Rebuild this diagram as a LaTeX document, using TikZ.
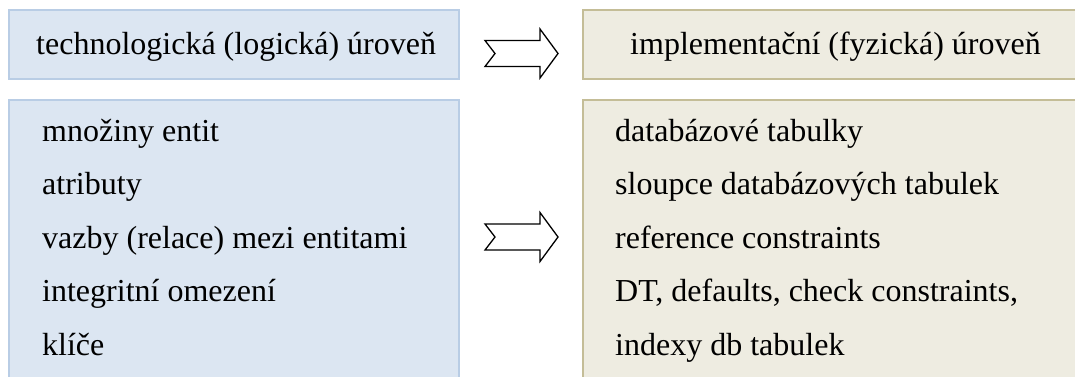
\documentclass[tikz,border=0pt]{standalone}
\usepackage{fontspec}
\setmainfont{Liberation Serif}
\definecolor{bluefill}{HTML}{DCE6F2}
\definecolor{blueline}{HTML}{B9CDE5}
\definecolor{beigefill}{HTML}{EEECE1}
\definecolor{beigeline}{HTML}{C4BD97}
\tikzset{
  bluebox/.style={fill=bluefill, draw=blueline, line width=2pt},
  beigebox/.style={fill=beigefill, draw=beigeline, line width=2pt},
  txt/.style={anchor=base west, inner sep=0pt, font=\fontsize{32}{38}\selectfont},
  fatarrow/.style={draw=black, fill=white, line width=1.3pt, line join=miter},
}
\begin{document}
\begin{tikzpicture}[x=1pt,y=-1pt]
\useasboundingbox (0,0) rectangle (1075,376);
\clip (0,0) rectangle (1075,376);
% boxes
\draw[bluebox] (8.5,10) rectangle (459,79);
\draw[bluebox] (8.5,100) rectangle (459,400);
\draw[beigebox] (583,10) rectangle (1090,79);
\draw[beigebox] (583,100) rectangle (1090,400);
% titles
\node[txt] (t1) at (36,54) {technologická (logická) úroveň};
\node[txt] (t2) at (630,54) {implementační (fyzická) úroveň};
% left list
\node[txt] (l1) at (42,141) {množiny entit};
\node[txt] (l2) at (42,194.5) {atributy};
\node[txt] (l3) at (42,248) {vazby (relace) mezi entitami};
\node[txt] (l4) at (42,301.5) {integritní omezení};
\node[txt] (l5) at (42,355) {klíče};
% right list
\node[txt] (r1) at (615,141) {databázové tabulky};
\node[txt] (r2) at (615,194.5) {sloupce databázových tabulek};
\node[txt] (r3) at (615,248) {reference constraints};
\node[txt] (r4) at (615,301.5) {DT, defaults, check constraints,};
\node[txt] (r5) at (615,355) {indexy db tabulek};
% arrows
\foreach \cy/\nm in {53.5/a1, 237/a2} {
  \draw[fatarrow] (485,\cy-13) -- (540,\cy-13) -- (540,\cy-24.5) -- (558,\cy)
    -- (540,\cy+24.5) -- (540,\cy+13) -- (485,\cy+13) -- (495,\cy) -- cycle;
}
\end{tikzpicture}
\end{document}
